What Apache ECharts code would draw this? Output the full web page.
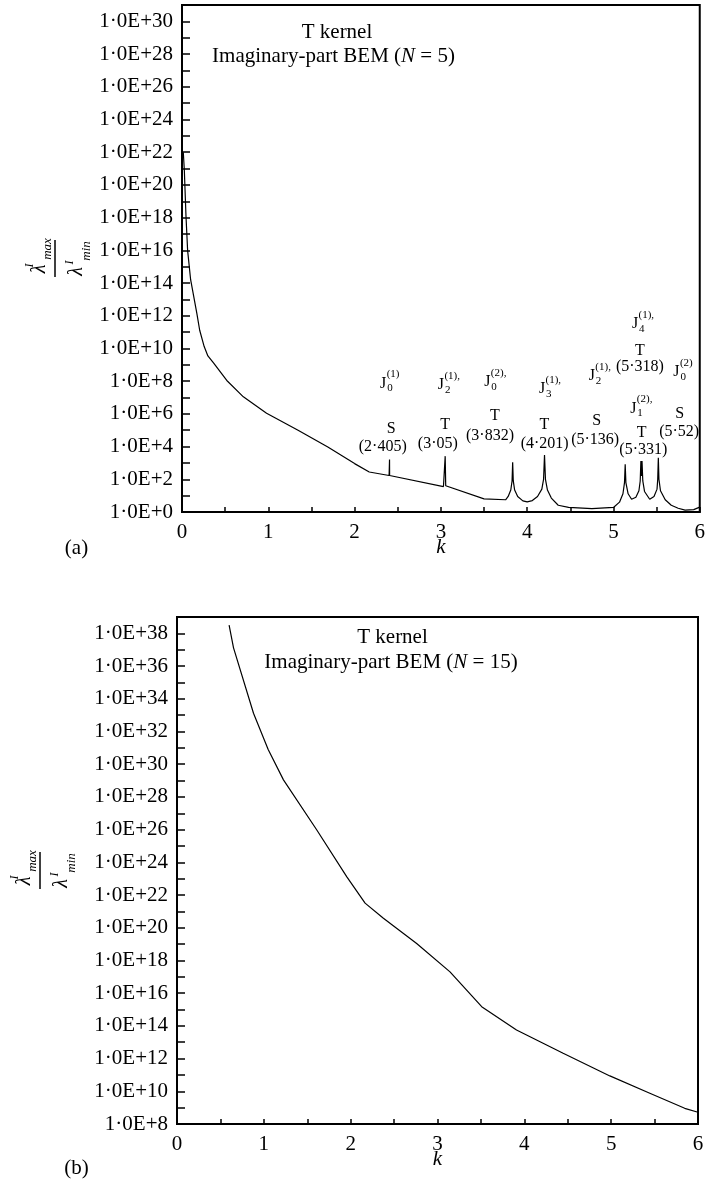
<!DOCTYPE html>
<html>
<head>
<meta charset="utf-8">
<script src="https://cdn.jsdelivr.net/npm/echarts@6/dist/echarts.min.js"></script>
<style>
  html, body { margin: 0; padding: 0; background: #fff; }
  #chart { width: 708px; height: 1181px; }
</style>
</head>
<body>
<div id="chart"></div>
<script>
const SERIF = '"Liberation Serif", "Times New Roman", "DejaVu Serif", serif';

// (a) T kernel, imaginary-part BEM, N = 5: condition number vs wave number k
const kA = [
  0.015, 0.027, 0.046, 0.065, 0.10, 0.173, 0.205, 0.257, 0.30, 0.365, 0.519, 0.711, 0.98, 1.345, 1.69, 2.0, 2.17,
  2.40, 2.404, 2.405, 2.406, 3.03, 3.044, 3.05, 3.056, 3.07, 3.5, 3.75,
  3.78, 3.81, 3.825, 3.832, 3.839, 3.855, 3.89, 3.95, 4.0, 4.06, 4.12, 4.17, 4.19, 4.201, 4.212, 4.235,
  4.28, 4.36, 4.48, 4.75, 5.0, 5.07, 5.11, 5.128, 5.136, 5.144, 5.17, 5.21, 5.26, 5.295, 5.31,
  5.318, 5.3245, 5.331, 5.34, 5.36, 5.42, 5.47, 5.505, 5.513, 5.52, 5.527, 5.545, 5.6, 5.67, 5.75,
  5.83, 5.93, 6.0
];
const ratioA = [
  1.0e22, 7.9e20, 1.3e18, 1.0e16, 1.6e14, 1.3e12, 1.3e11, 1.3e10, 3.5e9, 1.3e9, 1.1e8, 1.1e7, 1.1e6, 1.0e5, 9.5e3, 9.1e2, 2.8e2,
  1.7e2, 1.7e2, 1.6e3, 1.7e2, 36, 40, 2.6e3, 40, 32, 6.3, 5.6,
  8.9, 22, 79, 1.1e3, 79, 22, 8.9, 4.8, 4.2, 5.0, 8.9, 25, 1.0e2, 3.0e3, 1.0e2, 22,
  7.1, 2.6, 1.9, 1.6, 1.9, 4.0, 13, 63, 8.3e2, 63, 13, 6.0, 7.9, 20, 79,
  1.3e3, 1.6e2, 1.3e3, 79, 18, 6.0, 8.9, 25, 1.0e2, 2.1e3, 1.0e2, 20, 5.6, 2.6, 1.7,
  1.3, 1.4, 2.0
];

// (b) T kernel, imaginary-part BEM, N = 15
const kB = [0.6, 0.651, 0.881, 1.05, 1.226, 1.61, 1.956, 2.166, 2.377, 2.76, 3.144, 3.509, 3.91, 4.447, 4.985, 5.445, 5.847, 6.0];
const ratioB = [3.2e38, 1.3e37, 1.3e33, 7.9e30, 1.1e29, 9.5e25, 1.3e23, 3.2e21, 3.8e20, 1.1e19, 2.0e17, 1.5e15, 5.6e13, 2.1e12, 8.7e10, 7.6e9, 9.1e8, 5.2e8];

// Decade ranges of the two vertical axes (powers of ten)
const decadesA = [0, 31];
const decadesB = [8, 39];

// Resonance annotations in (a): Bessel zero, S/T mode, wave number
const besselSub = ['0', '2', '0', '3', '2', '4', '1', '0'];
const besselSup = ['(1)', '(1),', '(2),', '(1),', '(1),', '(1),', '(2),', '(2)'];
const besselAt = [[2.331, 7.86], [3.0, 7.76], [3.538, 7.94], [4.172, 7.51], [4.749, 8.31], [5.25, 11.49], [5.23, 6.33], [5.73, 8.57]];
const modeText = ['S', 'T', 'T', 'T', 'S', 'T', 'T', 'S'];
const modeAt = [[2.423, 5.06], [3.05, 5.36], [3.626, 5.87], [4.2, 5.36], [4.807, 5.57], [5.307, 9.86], [5.326, 4.85], [5.769, 6.03]];
const rootText = ['(2·405)', '(3·05)', '(3·832)', '(4·201)', '(5·136)', '(5·318)', '(5·331)', '(5·52)'];
const rootAt = [[2.326, 3.98], [2.965, 4.19], [3.569, 4.65], [4.203, 4.19], [4.788, 4.39], [5.307, 8.86], [5.346, 3.78], [5.761, 4.9]];

// Flatten the annotation table into one list of labelled anchors
const notes = [];
besselAt.forEach((p, i) => notes.push({ kind: 'J', k: p[0], e: p[1], sub: besselSub[i], sup: besselSup[i] }));
modeAt.forEach((p, i) => notes.push({ kind: 'text', k: p[0], e: p[1], text: modeText[i] }));
rootAt.forEach((p, i) => notes.push({ kind: 'text', k: p[0], e: p[1], text: rootText[i] }));

const chart = echarts.init(document.getElementById('chart'), null, { renderer: 'canvas' });

function xAxisFor(gridIndex) {
  return {
    type: 'value', gridIndex, min: 0, max: 6, interval: 0.5,
    name: 'k', nameLocation: 'middle', nameGap: 25, nameMoveOverlap: false,
    nameTextStyle: { fontFamily: SERIF, fontStyle: 'italic', fontSize: 21, color: '#000' },
    axisLine: { lineStyle: { color: '#000', width: 2 } },
    axisTick: { inside: true, length: 5, lineStyle: { color: '#000', width: 1.5 } },
    axisLabel: {
      margin: 10, fontFamily: SERIF, fontSize: 21, color: '#000',
      formatter: v => (Number.isInteger(v) ? String(v) : '')
    },
    splitLine: { show: false }
  };
}

// Log axis that carries the data
function logAxisFor(gridIndex, dec) {
  return {
    type: 'log', logBase: 10, gridIndex,
    min: Math.pow(10, dec[0]), max: Math.pow(10, dec[1]),
    axisLine: { show: false }, axisTick: { show: false }, axisLabel: { show: false },
    splitLine: { show: false }
  };
}

// Companion axis in decade units that draws the ticks and 1·0E+n labels
function decadeAxisFor(gridIndex, dec) {
  return {
    type: 'value', gridIndex, position: 'left',
    min: dec[0], max: dec[1], interval: 1,
    axisLine: { show: true, lineStyle: { color: '#000', width: 2 } },
    axisTick: { inside: true, length: 8, lineStyle: { color: '#000', width: 1.5 } },
    axisLabel: {
      margin: 9, fontFamily: SERIF, fontSize: 21, color: '#000',
      formatter: v => (v % 2 === 0 ? '1·0E+' + v : '')
    },
    splitLine: { show: false }
  };
}

function titleLines(cx1, cx2, y1, y2, n) {
  return [
    { type: 'text', x: cx1, y: y1, style: { text: 'T kernel', font: '21px ' + SERIF, fill: '#000', align: 'center', verticalAlign: 'middle' } },
    {
      type: 'text', x: cx2, y: y2,
      style: {
        text: '{r|Imaginary-part BEM (}{i|N}{r| = ' + n + ')}',
        align: 'center', verticalAlign: 'middle',
        rich: {
          r: { fontFamily: SERIF, fontSize: 21, fill: '#000' },
          i: { fontFamily: SERIF, fontSize: 21, fontStyle: 'italic', fill: '#000' }
        }
      }
    }
  ];
}

// Rotated fraction λ^I_max / λ^I_min used as the vertical axis title
function ratioLabel(cx, cy) {
  const it = (size) => 'italic ' + size + 'px ' + SERIF;
  const t = (text, x, y, size) => ({
    type: 'text', x, y,
    style: { text, font: it(size), fill: '#000', align: 'center', verticalAlign: 'middle' }
  });
  return {
    type: 'group', x: cx, y: cy, rotation: Math.PI / 2,
    children: [
      t('λ', -11, -15, 20), t('I', -7.5, -25.5, 12), t('max', 9, -7.5, 13),
      { type: 'line', shape: { x1: -19, y1: 0, x2: 18, y2: 0 }, style: { stroke: '#000', lineWidth: 1.5 } },
      t('λ', -13.5, 21.5, 20), t('I', -4.5, 14.5, 12), t('min', 7, 31.5, 13)
    ]
  };
}

const option = {
  backgroundColor: '#fff',
  animation: false,
  grid: [
    { left: 182, top: 5, width: 520, height: 507, show: true, borderColor: '#000', borderWidth: 2, containLabel: false },
    { left: 177, top: 617, width: 521, height: 507, show: true, borderColor: '#000', borderWidth: 2, containLabel: false }
  ],
  xAxis: [xAxisFor(0), xAxisFor(1)],
  yAxis: [logAxisFor(0, decadesA), decadeAxisFor(0, decadesA), logAxisFor(1, decadesB), decadeAxisFor(1, decadesB)],
  series: [
    {
      type: 'line', xAxisIndex: 0, yAxisIndex: 0,
      data: kA.map((k, i) => [k, ratioA[i]]),
      showSymbol: false, symbol: 'none', smooth: false,
      lineStyle: { color: '#000', width: 1.2 }
    },
    {
      type: 'line', xAxisIndex: 1, yAxisIndex: 2,
      data: kB.map((k, i) => [k, ratioB[i]]),
      showSymbol: false, symbol: 'none', smooth: false,
      lineStyle: { color: '#000', width: 1.2 }
    },
    {
      type: 'custom', xAxisIndex: 0, yAxisIndex: 0, z: 5,
      data: notes.map(n => [n.k, Math.pow(10, n.e)]),
      renderItem(params, api) {
        const n = notes[params.dataIndex];
        const p = api.coord([api.value(0), api.value(1)]);
        if (n.kind === 'J') {
          return {
            type: 'group', x: p[0], y: p[1],
            children: [
              { type: 'text', style: { text: 'J', x: 0, y: 0, font: '16px ' + SERIF, fill: '#000', align: 'center', verticalAlign: 'middle' } },
              { type: 'text', style: { text: n.sup, x: 3.5, y: -9, font: '11px ' + SERIF, fill: '#000', align: 'left', verticalAlign: 'middle' } },
              { type: 'text', style: { text: n.sub, x: 4, y: 5, font: '11px ' + SERIF, fill: '#000', align: 'left', verticalAlign: 'middle' } }
            ]
          };
        }
        return {
          type: 'text',
          style: { text: n.text, x: p[0], y: p[1], font: '16px ' + SERIF, fill: '#000', align: 'center', verticalAlign: 'middle' }
        };
      }
    }
  ],
  graphic: [
    ...titleLines(337, 333.5, 32.5, 56.5, 5),
    ...titleLines(392.5, 391, 637, 662, 15),
    ratioLabel(55, 258),
    ratioLabel(40, 870),
    { type: 'text', x: 76.5, y: 548, style: { text: '(a)', font: '21px ' + SERIF, fill: '#000', align: 'center', verticalAlign: 'middle' } },
    { type: 'text', x: 76.5, y: 1168, style: { text: '(b)', font: '21px ' + SERIF, fill: '#000', align: 'center', verticalAlign: 'middle' } }
  ]
};

chart.setOption(option);
</script>
</body>
</html>
